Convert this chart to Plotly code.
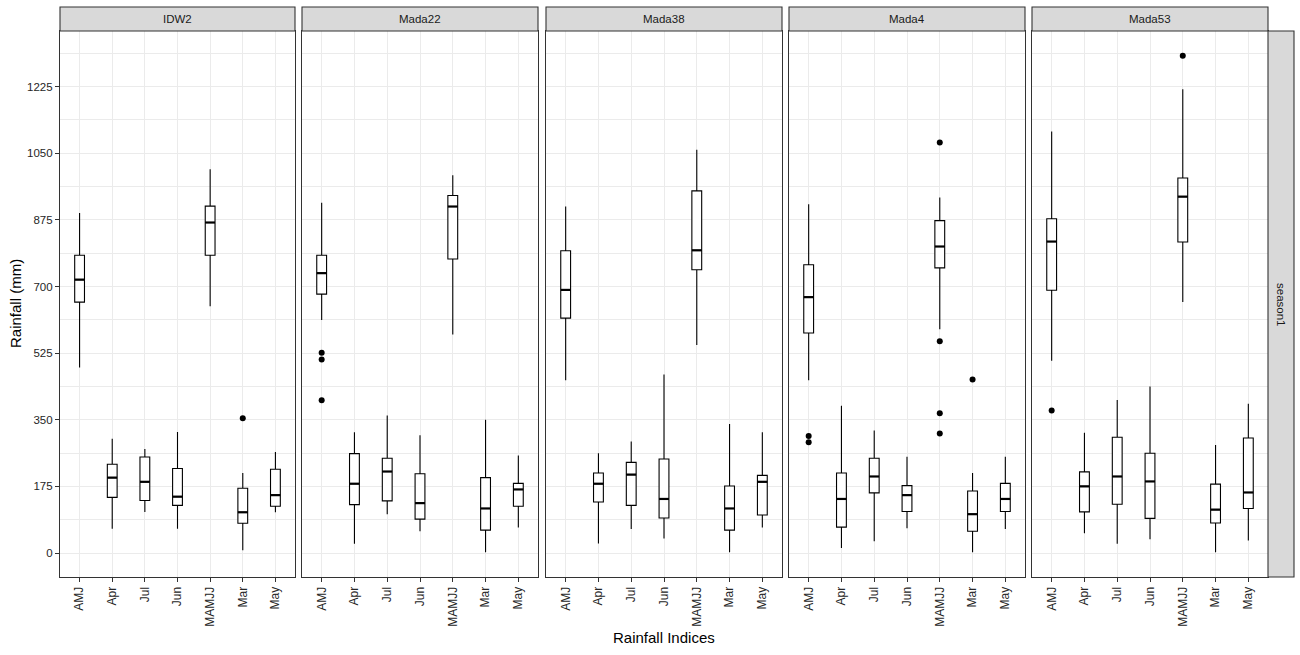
import plotly.graph_objects as go

categories = ["AMJ", "Apr", "Jul", "Jun", "MAMJJ", "Mar", "May"]
sites = ["IDW2", "Mada22", "Mada38", "Mada4", "Mada53"]
y_ticks = [0, 175, 350, 525, 700, 875, 1050, 1225]

# Box statistics per site, in category order
IDW2_lower = [487, 64, 108, 64, 648, 7, 107]
IDW2_q1 = [659, 146, 138, 125, 782, 78, 123]
IDW2_med = [718, 198, 187, 148, 868, 107, 152]
IDW2_q3 = [782, 233, 252, 222, 911, 170, 220]
IDW2_upper = [893, 300, 273, 318, 1008, 210, 265]

Mada22_lower = [612, 24, 102, 57, 574, 2, 67]
Mada22_q1 = [680, 127, 137, 89, 772, 60, 123]
Mada22_med = [735, 182, 214, 131, 910, 117, 167]
Mada22_q3 = [782, 261, 249, 208, 939, 198, 183]
Mada22_upper = [920, 317, 361, 309, 992, 350, 256]

Mada38_lower = [454, 25, 63, 38, 546, 2, 67]
Mada38_q1 = [617, 134, 125, 92, 744, 60, 100]
Mada38_med = [691, 182, 206, 142, 795, 117, 187]
Mada38_q3 = [794, 210, 238, 247, 951, 176, 204]
Mada38_upper = [910, 262, 293, 469, 1059, 339, 317]

Mada4_lower = [454, 13, 31, 65, 588, 2, 63]
Mada4_q1 = [578, 68, 158, 109, 749, 57, 109]
Mada4_med = [672, 142, 201, 152, 805, 102, 142]
Mada4_q3 = [757, 210, 249, 177, 873, 163, 183]
Mada4_upper = [916, 387, 322, 253, 934, 210, 253]

Mada53_lower = [505, 52, 24, 36, 659, 2, 33]
Mada53_q1 = [690, 108, 128, 91, 817, 79, 117]
Mada53_med = [818, 175, 201, 188, 936, 114, 159]
Mada53_q3 = [878, 213, 304, 262, 985, 181, 302]
Mada53_upper = [1107, 316, 402, 437, 1218, 284, 392]

# Outliers: category and value
IDW2_out_cat = ["Mar"]
IDW2_out_val = [354]
Mada22_out_cat = ["AMJ", "AMJ", "AMJ"]
Mada22_out_val = [526, 508, 401]
Mada38_out_cat = []
Mada38_out_val = []
Mada4_out_cat = ["AMJ", "AMJ", "MAMJJ", "MAMJJ", "MAMJJ", "MAMJJ", "Mar"]
Mada4_out_val = [307, 291, 1078, 556, 367, 314, 456]
Mada53_out_cat = ["AMJ", "MAMJJ"]
Mada53_out_val = [374, 1306]

stats = {
    "IDW2": (IDW2_lower, IDW2_q1, IDW2_med, IDW2_q3, IDW2_upper, IDW2_out_cat, IDW2_out_val),
    "Mada22": (Mada22_lower, Mada22_q1, Mada22_med, Mada22_q3, Mada22_upper, Mada22_out_cat, Mada22_out_val),
    "Mada38": (Mada38_lower, Mada38_q1, Mada38_med, Mada38_q3, Mada38_upper, Mada38_out_cat, Mada38_out_val),
    "Mada4": (Mada4_lower, Mada4_q1, Mada4_med, Mada4_q3, Mada4_upper, Mada4_out_cat, Mada4_out_val),
    "Mada53": (Mada53_lower, Mada53_q1, Mada53_med, Mada53_q3, Mada53_upper, Mada53_out_cat, Mada53_out_val),
}

W, H = 1300, 655
panel_x = [(60, 295), (302, 538), (546, 782), (789, 1025), (1032, 1268)]
panel_top, panel_bot = 31, 577
strip_top = 7
BOXW = 0.3
FONT = "Liberation Sans, Arial, sans-serif"
TICKCOL = "#262626"

def px_x(p):
    return p / W

def px_y(p):
    return 1 - p / H

fig = go.Figure()
idx = list(range(len(categories)))

for k, site in enumerate(sites):
    lo, q1, med, q3, up, oc, ov = stats[site]
    xa = "x" if k == 0 else f"x{k+1}"
    ya = "y" if k == 0 else f"y{k+1}"
    fig.add_trace(go.Box(
        x=idx, q1=q1, median=med, q3=q3, lowerfence=lo, upperfence=up,
        width=BOXW, whiskerwidth=0, boxpoints=False,
        fillcolor="white", line=dict(color="black", width=1.1),
        xaxis=xa, yaxis=ya, showlegend=False, hoverinfo="skip"))
    # thicker median
    mx, my = [], []
    for i, m in zip(idx, med):
        mx += [i - BOXW / 2, i + BOXW / 2, None]
        my += [m, m, None]
    fig.add_trace(go.Scatter(x=mx, y=my, mode="lines",
                             line=dict(color="black", width=2.2),
                             xaxis=xa, yaxis=ya, showlegend=False, hoverinfo="skip"))
    if ov:
        fig.add_trace(go.Scatter(x=[categories.index(c) for c in oc], y=ov, mode="markers",
                                 marker=dict(color="black", size=6),
                                 xaxis=xa, yaxis=ya, showlegend=False, hoverinfo="skip"))

layout = dict(
    width=W, height=H, margin=dict(l=0, r=0, t=0, b=0),
    paper_bgcolor="white", plot_bgcolor="white", showlegend=False,
    font=dict(family=FONT, color=TICKCOL),
)

shapes = []
annotations = []
for k, site in enumerate(sites):
    x0, x1 = panel_x[k]
    sx = "" if k == 0 else str(k + 1)
    layout["xaxis" + sx] = dict(
        domain=[px_x(x0), px_x(x1)], anchor="y" + sx,
        range=[-0.6, 6.6], tickmode="array", tickvals=idx, ticktext=categories,
        tickangle=-90, ticks="outside", ticklen=4, tickcolor="#333333", tickwidth=1,
        tickfont=dict(size=12, color=TICKCOL, family=FONT),
        showgrid=True, gridcolor="#EBEBEB", gridwidth=1.1,
        showline=True, linecolor="#333333", linewidth=1.1, mirror=True,
        zeroline=False, fixedrange=True)
    layout["yaxis" + sx] = dict(
        domain=[px_y(panel_bot), px_y(panel_top)], anchor="x" + sx,
        range=[-63, 1371], tickmode="array", tickvals=y_ticks,
        showticklabels=(k == 0), ticks="outside" if k == 0 else "",
        ticklen=4, tickcolor="#333333", tickwidth=1,
        tickfont=dict(size=11.5, color=TICKCOL, family=FONT),
        showgrid=True, gridcolor="#EBEBEB", gridwidth=1.1,
        minor=dict(tickmode="linear", tick0=87.5, dtick=175, showgrid=True,
                   gridcolor="#EBEBEB", gridwidth=0.6, ticks=""),
        showline=True, linecolor="#333333", linewidth=1.1, mirror=True,
        zeroline=False, fixedrange=True)
    # strip on top
    shapes.append(dict(type="rect", xref="paper", yref="paper",
                       x0=px_x(x0), x1=px_x(x1), y0=px_y(panel_top), y1=px_y(strip_top),
                       fillcolor="#D9D9D9", line=dict(color="#333333", width=1.1), layer="above"))
    annotations.append(dict(text=site, xref="paper", yref="paper",
                            x=(px_x(x0) + px_x(x1)) / 2, y=(px_y(panel_top) + px_y(strip_top)) / 2,
                            showarrow=False, xanchor="center", yanchor="middle",
                            font=dict(size=11.5, color="#1A1A1A", family=FONT)))

# right strip
shapes.append(dict(type="rect", xref="paper", yref="paper",
                   x0=px_x(1268), x1=px_x(1294), y0=px_y(panel_bot), y1=px_y(panel_top),
                   fillcolor="#D9D9D9", line=dict(color="#333333", width=1.1), layer="above"))
annotations.append(dict(text="season1", xref="paper", yref="paper",
                        x=px_x(1281), y=(px_y(panel_bot) + px_y(panel_top)) / 2,
                        showarrow=False, textangle=90, xanchor="center", yanchor="middle",
                        font=dict(size=11.5, color="#1A1A1A", family=FONT)))
# axis titles
annotations.append(dict(text="Rainfall (mm)", xref="paper", yref="paper",
                        x=px_x(15), y=(px_y(panel_bot) + px_y(panel_top)) / 2,
                        showarrow=False, textangle=-90, xanchor="center", yanchor="middle",
                        font=dict(size=15, color="black", family=FONT)))
annotations.append(dict(text="Rainfall Indices", xref="paper", yref="paper",
                        x=px_x(664), y=px_y(637),
                        showarrow=False, xanchor="center", yanchor="middle",
                        font=dict(size=15, color="black", family=FONT)))

layout["shapes"] = shapes
layout["annotations"] = annotations
fig.update_layout(**layout)
fig.write_html("out.html")
